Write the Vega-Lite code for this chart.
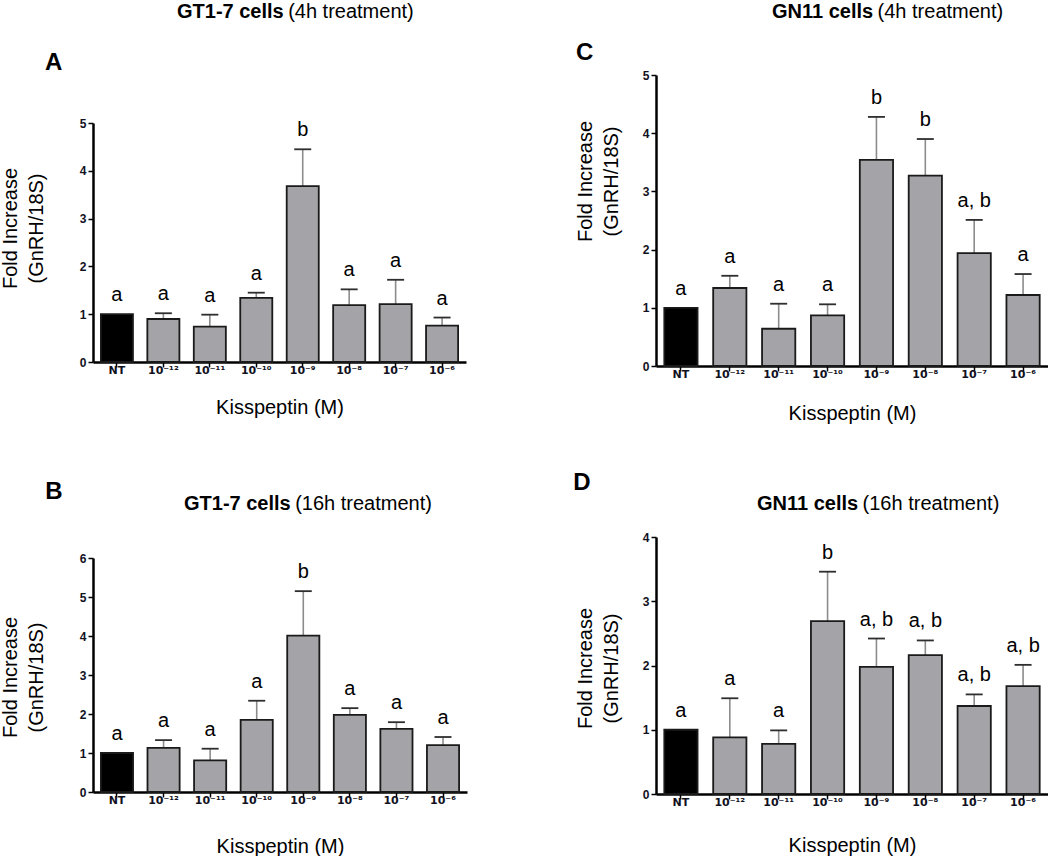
{
  "$schema": "https://vega.github.io/schema/vega-lite/v6.json",
  "padding": {"left": 0, "top": 2, "right": 0, "bottom": 0},
  "background": "#ffffff",
  "config": {
    "view": {"stroke": null},
    "font": "Liberation Sans",
    "axis": {"grid": false, "domainColor": "#000000", "domainWidth": 2.5, "tickColor": "#000000", "tickWidth": 1.5, "tickSize": 5, "labelColor": "#111122", "labelFontWeight": "bold", "labelFontSize": 12, "titleColor": "#000000", "titleFontWeight": "normal", "titleFontSize": 20},
    "axisX": {"labelPadding": -3, "labelAngle": 0, "labelFont": "DejaVu Sans", "labelFontSize": 11},
    "axisY": {"labelPadding": 2},
    "title": {"color": "#000000", "subtitleColor": "#000000"}
  },
  "data": {"values": [
    {"panel": "A", "dose": "NT", "value": 1.0, "upper": 1.0, "label": "a"},
    {"panel": "A", "dose": "10⁻¹²", "value": 0.90, "upper": 1.02, "label": "a"},
    {"panel": "A", "dose": "10⁻¹¹", "value": 0.74, "upper": 0.99, "label": "a"},
    {"panel": "A", "dose": "10⁻¹⁰", "value": 1.34, "upper": 1.45, "label": "a"},
    {"panel": "A", "dose": "10⁻⁹", "value": 3.68, "upper": 4.45, "label": "b"},
    {"panel": "A", "dose": "10⁻⁸", "value": 1.19, "upper": 1.52, "label": "a"},
    {"panel": "A", "dose": "10⁻⁷", "value": 1.21, "upper": 1.72, "label": "a"},
    {"panel": "A", "dose": "10⁻⁶", "value": 0.76, "upper": 0.93, "label": "a"},
    {"panel": "B", "dose": "NT", "value": 1.0, "upper": 1.0, "label": "a"},
    {"panel": "B", "dose": "10⁻¹²", "value": 1.13, "upper": 1.33, "label": "a"},
    {"panel": "B", "dose": "10⁻¹¹", "value": 0.81, "upper": 1.11, "label": "a"},
    {"panel": "B", "dose": "10⁻¹⁰", "value": 1.85, "upper": 2.34, "label": "a"},
    {"panel": "B", "dose": "10⁻⁹", "value": 4.01, "upper": 5.15, "label": "b"},
    {"panel": "B", "dose": "10⁻⁸", "value": 1.98, "upper": 2.15, "label": "a"},
    {"panel": "B", "dose": "10⁻⁷", "value": 1.62, "upper": 1.79, "label": "a"},
    {"panel": "B", "dose": "10⁻⁶", "value": 1.20, "upper": 1.41, "label": "a"},
    {"panel": "C", "dose": "NT", "value": 1.0, "upper": 1.0, "label": "a"},
    {"panel": "C", "dose": "10⁻¹²", "value": 1.34, "upper": 1.55, "label": "a"},
    {"panel": "C", "dose": "10⁻¹¹", "value": 0.64, "upper": 1.07, "label": "a"},
    {"panel": "C", "dose": "10⁻¹⁰", "value": 0.87, "upper": 1.06, "label": "a"},
    {"panel": "C", "dose": "10⁻⁹", "value": 3.54, "upper": 4.28, "label": "b"},
    {"panel": "C", "dose": "10⁻⁸", "value": 3.27, "upper": 3.90, "label": "b"},
    {"panel": "C", "dose": "10⁻⁷", "value": 1.94, "upper": 2.51, "label": "a, b"},
    {"panel": "C", "dose": "10⁻⁶", "value": 1.22, "upper": 1.58, "label": "a"},
    {"panel": "D", "dose": "NT", "value": 1.0, "upper": 1.0, "label": "a"},
    {"panel": "D", "dose": "10⁻¹²", "value": 0.88, "upper": 1.49, "label": "a"},
    {"panel": "D", "dose": "10⁻¹¹", "value": 0.78, "upper": 0.99, "label": "a"},
    {"panel": "D", "dose": "10⁻¹⁰", "value": 2.69, "upper": 3.46, "label": "b"},
    {"panel": "D", "dose": "10⁻⁹", "value": 1.98, "upper": 2.42, "label": "a, b"},
    {"panel": "D", "dose": "10⁻⁸", "value": 2.16, "upper": 2.39, "label": "a, b"},
    {"panel": "D", "dose": "10⁻⁷", "value": 1.37, "upper": 1.55, "label": "a, b"},
    {"panel": "D", "dose": "10⁻⁶", "value": 1.68, "upper": 2.01, "label": "a, b"}
  ]},
  "spacing": 106,
  "hconcat": [
    {
      "spacing": 28,
      "vconcat": [
        {
          "data": {"values": []},
          "width": 373, "height": 1,
          "mark": {"type": "point", "opacity": 0},
          "title": {"text": "GT1-7 cells", "subtitle": "\u200b\u00a0\u00a0\u00a0\u00a0\u00a0\u00a0\u00a0\u00a0\u00a0\u00a0\u00a0\u00a0\u00a0\u00a0\u00a0\u00a0\u00a0\u00a0\u00a0\u00a0(4h treatment)", "anchor": "start", "frame": "group", "dx": 84, "fontSize": 20, "fontWeight": "bold", "subtitleFontSize": 20, "subtitleFontWeight": "normal", "subtitlePadding": -20, "offset": 0}
        },
        {
          "title": {"text": "A", "anchor": "start", "frame": "group", "dx": -48, "fontSize": 24, "fontWeight": "bold", "offset": 42},
          "width": 373, "height": 239,
          "transform": [{"filter": "datum.panel == 'A'"}],
          "encoding": {"x": {"field": "dose", "type": "nominal", "sort": ["NT","10⁻¹²","10⁻¹¹","10⁻¹⁰","10⁻⁹","10⁻⁸","10⁻⁷","10⁻⁶"], "scale": {"paddingInner": 0.31, "paddingOuter": 0.17}, "axis": {"title": "Kisspeptin (M)", "titlePadding": 22}}},
          "layer": [
            {"transform": [{"filter": "datum.dose != 'NT'"}], "mark": {"type": "rule", "color": "#8c8c8c", "strokeWidth": 1.6}, "encoding": {"y": {"field": "value", "type": "quantitative", "scale": {"domain": [0, 5], "nice": false}, "axis": {"values": [0,1,2,3,4,5], "title": ["Fold Increase", "(GnRH/18S)"], "titlePadding": 33, "titleY": 105, "titleLineHeight": 26}}, "y2": {"field": "upper"}}},
            {"mark": {"type": "bar", "stroke": "#1a1a1a", "strokeWidth": 1.8}, "encoding": {"y": {"field": "value", "type": "quantitative", "scale": {"domain": [0, 5], "nice": false}, "axis": {"values": [0,1,2,3,4,5], "title": ["Fold Increase", "(GnRH/18S)"], "titlePadding": 33, "titleY": 105, "titleLineHeight": 26}}, "fill": {"condition": {"test": "datum.dose == 'NT'", "value": "#000000"}, "value": "#a4a4a8"}}},
            {"transform": [{"filter": "datum.dose != 'NT'"}], "mark": {"type": "tick", "color": "#2e2e2e", "thickness": 1.8, "size": 17, "opacity": 1}, "encoding": {"y": {"field": "upper", "type": "quantitative", "scale": {"domain": [0, 5], "nice": false}, "axis": {"values": [0,1,2,3,4,5], "title": ["Fold Increase", "(GnRH/18S)"], "titlePadding": 33, "titleY": 105, "titleLineHeight": 26}}}},
            {"mark": {"type": "text", "dy": -13, "baseline": "alphabetic", "fontSize": 20, "color": "#000000"}, "encoding": {"y": {"field": "upper", "type": "quantitative", "scale": {"domain": [0, 5], "nice": false}, "axis": {"values": [0,1,2,3,4,5], "title": ["Fold Increase", "(GnRH/18S)"], "titlePadding": 33, "titleY": 105, "titleLineHeight": 26}}, "text": {"field": "label"}}}
          ]
        },
        {
          "title": {"text": ["", "B"], "lineHeight": 35, "anchor": "start", "frame": "bounds", "dx": 45, "fontSize": 24, "fontWeight": "bold", "offset": -10},
          "vconcat": [
            {
              "title": {"text": "GT1-7 cells", "subtitle": "\u200b\u00a0\u00a0\u00a0\u00a0\u00a0\u00a0\u00a0\u00a0\u00a0\u00a0\u00a0\u00a0\u00a0\u00a0\u00a0\u00a0\u00a0\u00a0\u00a0\u00a0(16h treatment)", "anchor": "start", "frame": "group", "dx": 91, "fontSize": 20, "fontWeight": "bold", "subtitleFontSize": 20, "subtitleFontWeight": "normal", "subtitlePadding": -20, "offset": 38},
              "width": 374, "height": 234,
              "transform": [{"filter": "datum.panel == 'B'"}],
              "encoding": {"x": {"field": "dose", "type": "nominal", "sort": ["NT","10⁻¹²","10⁻¹¹","10⁻¹⁰","10⁻⁹","10⁻⁸","10⁻⁷","10⁻⁶"], "scale": {"paddingInner": 0.31, "paddingOuter": 0.17}, "axis": {"title": "Kisspeptin (M)", "titlePadding": 31}}},
              "layer": [
                {"transform": [{"filter": "datum.dose != 'NT'"}], "mark": {"type": "rule", "color": "#8c8c8c", "strokeWidth": 1.6}, "encoding": {"y": {"field": "value", "type": "quantitative", "scale": {"domain": [0, 6], "nice": false}, "axis": {"values": [0,1,2,3,4,5,6], "title": ["Fold Increase", "(GnRH/18S)"], "titlePadding": 33, "titleY": 119, "titleLineHeight": 26}}, "y2": {"field": "upper"}}},
                {"mark": {"type": "bar", "stroke": "#1a1a1a", "strokeWidth": 1.8}, "encoding": {"y": {"field": "value", "type": "quantitative", "scale": {"domain": [0, 6], "nice": false}, "axis": {"values": [0,1,2,3,4,5,6], "title": ["Fold Increase", "(GnRH/18S)"], "titlePadding": 33, "titleY": 119, "titleLineHeight": 26}}, "fill": {"condition": {"test": "datum.dose == 'NT'", "value": "#000000"}, "value": "#a4a4a8"}}},
                {"transform": [{"filter": "datum.dose != 'NT'"}], "mark": {"type": "tick", "color": "#2e2e2e", "thickness": 1.8, "size": 17, "opacity": 1}, "encoding": {"y": {"field": "upper", "type": "quantitative", "scale": {"domain": [0, 6], "nice": false}, "axis": {"values": [0,1,2,3,4,5,6], "title": ["Fold Increase", "(GnRH/18S)"], "titlePadding": 33, "titleY": 119, "titleLineHeight": 26}}}},
                {"mark": {"type": "text", "dy": -13, "baseline": "alphabetic", "fontSize": 20, "color": "#000000"}, "encoding": {"y": {"field": "upper", "type": "quantitative", "scale": {"domain": [0, 6], "nice": false}, "axis": {"values": [0,1,2,3,4,5,6], "title": ["Fold Increase", "(GnRH/18S)"], "titlePadding": 33, "titleY": 119, "titleLineHeight": 26}}, "text": {"field": "label"}}}
              ]
            }
          ]
        }
      ]
    },
    {
      "spacing": 18,
      "vconcat": [
        {
          "data": {"values": []},
          "width": 392, "height": 1,
          "mark": {"type": "point", "opacity": 0},
          "title": {"text": "GN11 cells", "subtitle": "\u200b\u00a0\u00a0\u00a0\u00a0\u00a0\u00a0\u00a0\u00a0\u00a0\u00a0\u00a0\u00a0\u00a0\u00a0\u00a0\u00a0\u00a0\u00a0\u00a0(4h treatment)", "anchor": "start", "frame": "group", "dx": 116, "fontSize": 20, "fontWeight": "bold", "subtitleFontSize": 20, "subtitleFontWeight": "normal", "subtitlePadding": -20, "offset": 0}
        },
        {
          "title": {"text": "C", "anchor": "start", "frame": "group", "dx": -80, "fontSize": 24, "fontWeight": "bold", "offset": 4},
          "width": 392, "height": 291,
          "transform": [{"filter": "datum.panel == 'C'"}],
          "encoding": {"x": {"field": "dose", "type": "nominal", "sort": ["NT","10⁻¹²","10⁻¹¹","10⁻¹⁰","10⁻⁹","10⁻⁸","10⁻⁷","10⁻⁶"], "scale": {"paddingInner": 0.32, "paddingOuter": 0.17}, "axis": {"title": "Kisspeptin (M)", "titlePadding": 24}}},
          "layer": [
            {"transform": [{"filter": "datum.dose != 'NT'"}], "mark": {"type": "rule", "color": "#8c8c8c", "strokeWidth": 1.6}, "encoding": {"y": {"field": "value", "type": "quantitative", "scale": {"domain": [0, 5], "nice": false}, "axis": {"values": [0,1,2,3,4,5], "title": ["Fold Increase", "(GnRH/18S)"], "titlePadding": 21, "titleY": 106, "titleLineHeight": 26}}, "y2": {"field": "upper"}}},
            {"mark": {"type": "bar", "stroke": "#1a1a1a", "strokeWidth": 1.8}, "encoding": {"y": {"field": "value", "type": "quantitative", "scale": {"domain": [0, 5], "nice": false}, "axis": {"values": [0,1,2,3,4,5], "title": ["Fold Increase", "(GnRH/18S)"], "titlePadding": 21, "titleY": 106, "titleLineHeight": 26}}, "fill": {"condition": {"test": "datum.dose == 'NT'", "value": "#000000"}, "value": "#a4a4a8"}}},
            {"transform": [{"filter": "datum.dose != 'NT'"}], "mark": {"type": "tick", "color": "#2e2e2e", "thickness": 1.8, "size": 17, "opacity": 1}, "encoding": {"y": {"field": "upper", "type": "quantitative", "scale": {"domain": [0, 5], "nice": false}, "axis": {"values": [0,1,2,3,4,5], "title": ["Fold Increase", "(GnRH/18S)"], "titlePadding": 21, "titleY": 106, "titleLineHeight": 26}}}},
            {"mark": {"type": "text", "dy": -13, "baseline": "alphabetic", "fontSize": 20, "color": "#000000"}, "encoding": {"y": {"field": "upper", "type": "quantitative", "scale": {"domain": [0, 5], "nice": false}, "axis": {"values": [0,1,2,3,4,5], "title": ["Fold Increase", "(GnRH/18S)"], "titlePadding": 21, "titleY": 106, "titleLineHeight": 26}}, "text": {"field": "label"}}}
          ]
        },
        {
          "title": {"text": ["", "D"], "lineHeight": 30, "anchor": "start", "frame": "bounds", "dx": -2, "fontSize": 24, "fontWeight": "bold", "offset": -1},
          "vconcat": [
            {
              "title": {"text": "GN11 cells", "subtitle": "\u200b\u00a0\u00a0\u00a0\u00a0\u00a0\u00a0\u00a0\u00a0\u00a0\u00a0\u00a0\u00a0\u00a0\u00a0\u00a0\u00a0\u00a0\u00a0\u00a0(16h treatment)", "anchor": "start", "frame": "group", "dx": 101, "fontSize": 20, "fontWeight": "bold", "subtitleFontSize": 20, "subtitleFontWeight": "normal", "subtitlePadding": -20, "offset": 17},
              "width": 392, "height": 257,
              "transform": [{"filter": "datum.panel == 'D'"}],
              "encoding": {"x": {"field": "dose", "type": "nominal", "sort": ["NT","10⁻¹²","10⁻¹¹","10⁻¹⁰","10⁻⁹","10⁻⁸","10⁻⁷","10⁻⁶"], "scale": {"paddingInner": 0.32, "paddingOuter": 0.17}, "axis": {"title": "Kisspeptin (M)", "titlePadding": 28}}},
              "layer": [
                {"transform": [{"filter": "datum.dose != 'NT'"}], "mark": {"type": "rule", "color": "#8c8c8c", "strokeWidth": 1.6}, "encoding": {"y": {"field": "value", "type": "quantitative", "scale": {"domain": [0, 4], "nice": false}, "axis": {"values": [0,1,2,3,4], "title": ["Fold Increase", "(GnRH/18S)"], "titlePadding": 21, "titleY": 131, "titleLineHeight": 26}}, "y2": {"field": "upper"}}},
                {"mark": {"type": "bar", "stroke": "#1a1a1a", "strokeWidth": 1.8}, "encoding": {"y": {"field": "value", "type": "quantitative", "scale": {"domain": [0, 4], "nice": false}, "axis": {"values": [0,1,2,3,4], "title": ["Fold Increase", "(GnRH/18S)"], "titlePadding": 21, "titleY": 131, "titleLineHeight": 26}}, "fill": {"condition": {"test": "datum.dose == 'NT'", "value": "#000000"}, "value": "#a4a4a8"}}},
                {"transform": [{"filter": "datum.dose != 'NT'"}], "mark": {"type": "tick", "color": "#2e2e2e", "thickness": 1.8, "size": 17, "opacity": 1}, "encoding": {"y": {"field": "upper", "type": "quantitative", "scale": {"domain": [0, 4], "nice": false}, "axis": {"values": [0,1,2,3,4], "title": ["Fold Increase", "(GnRH/18S)"], "titlePadding": 21, "titleY": 131, "titleLineHeight": 26}}}},
                {"mark": {"type": "text", "dy": -13, "baseline": "alphabetic", "fontSize": 20, "color": "#000000"}, "encoding": {"y": {"field": "upper", "type": "quantitative", "scale": {"domain": [0, 4], "nice": false}, "axis": {"values": [0,1,2,3,4], "title": ["Fold Increase", "(GnRH/18S)"], "titlePadding": 21, "titleY": 131, "titleLineHeight": 26}}, "text": {"field": "label"}}}
              ]
            }
          ]
        }
      ]
    }
  ]
}
